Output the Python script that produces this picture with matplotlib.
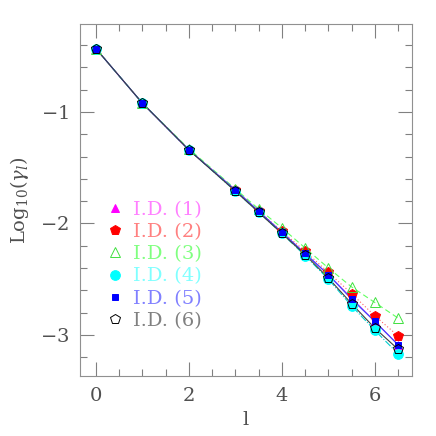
import numpy as np
import matplotlib.pyplot as plt
from matplotlib.lines import Line2D

l = [0, 1, 2, 3, 3.5, 4, 4.5, 5, 5.5, 6, 6.5]

id1 = [-0.43, -0.92, -1.34, -1.70, -1.89, -2.08, -2.27, -2.46, -2.67, -2.88, -3.09]
id2 = [-0.43, -0.92, -1.34, -1.70, -1.89, -2.07, -2.25, -2.44, -2.63, -2.83, -3.01]
id3 = [-0.43, -0.92, -1.33, -1.69, -1.87, -2.04, -2.22, -2.40, -2.57, -2.71, -2.85]
id4 = [-0.43, -0.92, -1.34, -1.71, -1.90, -2.09, -2.29, -2.50, -2.74, -2.96, -3.17]
id5 = [-0.43, -0.92, -1.34, -1.70, -1.89, -2.08, -2.27, -2.46, -2.68, -2.88, -3.09]
id6 = [-0.43, -0.92, -1.34, -1.71, -1.90, -2.09, -2.28, -2.49, -2.72, -2.94, -3.13]

labels = ["I.D. (1)", "I.D. (2)", "I.D. (3)", "I.D. (4)", "I.D. (5)", "I.D. (6)"]

plt.rcParams['font.family'] = ['DejaVu Serif']
plt.rcParams['mathtext.fontset'] = 'dejavuserif'

fig = plt.figure(figsize=(4.36, 4.36), dpi=100)
ax = fig.add_axes([80 / 436, 60 / 436, 332 / 436, 352 / 436])

series = [id1, id2, id3, id4, id5, id6]
colors = ['magenta', 'red', '#40e040', 'cyan', 'blue', 'black']
linecols = ['#c040ff', '#ff6060', '#60ff60', '#00d0d0', '#4040ff', '#404040']
markers = ['^', 'p', '^', 'o', 's', 'p']
filled = [True, True, False, True, True, False]
styles = ['-', (0, (1, 2)), (0, (5, 3)), '-.', '-', '-']
msizes = [6, 7, 7, 7, 5, 7]
textcols = ['#ff80ff', '#ff8080', '#80ff80', '#80ffff', '#8080ff', '#808080']

for ys, c, lc, m, f, ls, ms in zip(series, colors, linecols, markers, filled, styles, msizes):
    ax.plot(l, ys, color=lc, linestyle=ls, linewidth=0.8)
for ys, c, lc, m, f, ls, ms in zip(series, colors, linecols, markers, filled, styles, msizes):
    ax.plot(l, ys, linestyle='none', marker=m, markersize=ms,
            markerfacecolor=c if f else 'none', markeredgecolor=c, markeredgewidth=0.7)

handles = []
for c, m, f, ms in zip(colors, markers, filled, msizes):
    handles.append(Line2D([], [], linestyle='none', marker=m, markersize=ms,
                          markerfacecolor=c if f else 'none', markeredgecolor=c,
                          markeredgewidth=0.7))
leg = ax.legend(handles, labels, loc='upper left', bbox_to_anchor=(0.06, 0.52),
                frameon=False, fontsize=14, handlelength=0.8, handletextpad=0.5,
                labelspacing=0.22, borderaxespad=0)
for t, tc in zip(leg.get_texts(), textcols):
    t.set_color(tc)

ax.set_xlim(-0.34, 6.8)
ax.set_ylim(-3.37, -0.21)
ax.set_xticks([0, 2, 4, 6])
ax.set_xticks(np.arange(0, 7, 0.5), minor=True)
ax.set_yticks([-1, -2, -3])
ax.set_yticks(np.arange(-3.2, -0.3, 0.2), minor=True)
ax.set_yticklabels(['$-1$', '$-2$', '$-3$'])
ax.tick_params(which='both', direction='in', top=True, right=True, colors='#808080',
               labelcolor='#505050', labelsize=14, pad=8)
ax.tick_params(which='major', length=10, width=0.8)
ax.tick_params(which='minor', length=5, width=0.8)
for s in ax.spines.values():
    s.set_color('#909090')
    s.set_linewidth(0.8)

ax.set_xlabel('l', fontsize=14, color='#505050')
ax.set_ylabel(r'Log$_{10}$($\gamma_l$)', fontsize=14, color='#505050', labelpad=6)

fig.savefig('out.png', dpi=100)
